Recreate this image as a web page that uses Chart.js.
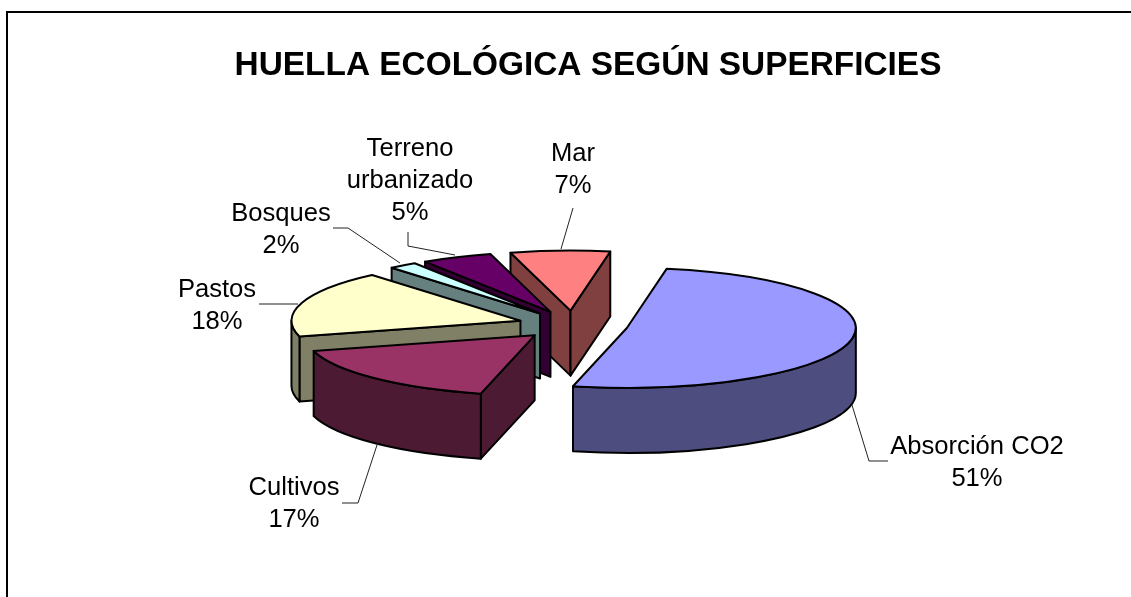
<!DOCTYPE html>
<html lang="es">
<head>
    <meta charset="UTF-8">
    <title>Huella ecológica según superficies</title>
    <script src="https://cdn.jsdelivr.net/npm/chart.js"></script>
    <style>
        body { margin: 0; background-color: white; }
        canvas { display: block; }
    </style>
</head>
<body>
    <canvas id="pieChart" width="1131" height="597"></canvas>

    <script>
        let categories = ["Absorción CO2", "Cultivos", "Pastos", "Bosques", "Terreno urbanizado", "Mar"];
        let percents = [51, 17, 18, 2, 5, 7];
        let topColors = ["#9999FF", "#993366", "#FFFFCC", "#CCFFFF", "#660066", "#FF8080"];
        let wallColors = ["#4D4D80", "#4D1A33", "#808066", "#668080", "#330033", "#804040"];

        // pie look, measured on the picture
        const centerX = 573, centerY = 325;
        const tilt = 0.262;
        const depth = 65;
        const explode = 55;
        const edgeWidth = 2;
        const labelFont = "25.6px 'Liberation Sans', Arial, sans-serif";

        // where each label goes, same order as categories
        const labelSpots = [
            { lines: ["Absorción CO2"], x: 977, y: 454, leader: [[852, 405], [869, 461], [888, 461]] },
            { lines: ["Cultivos"], x: 294, y: 495, leader: [[378, 442], [358, 503], [342, 503]] },
            { lines: ["Pastos"], x: 217, y: 297, leader: [[259, 304], [298, 304]] },
            { lines: ["Bosques"], x: 281, y: 221, leader: [[333, 228], [348, 228], [400, 263]] },
            { lines: ["Terreno", "urbanizado"], x: 410, y: 156, leader: [[408, 232], [408, 246], [455, 255]] },
            { lines: ["Mar"], x: 573, y: 161, leader: [[573, 208], [561, 249]] }
        ];

        function wallFace(ctx, x1, y1, x2, y2, color) {
            ctx.beginPath();
            ctx.moveTo(x1, y1);
            ctx.lineTo(x2, y2);
            ctx.lineTo(x2, y2 + depth);
            ctx.lineTo(x1, y1 + depth);
            ctx.closePath();
            ctx.fillStyle = color;
            ctx.fill();
            ctx.stroke();
        }

        function drawSlice(ctx, arc, index) {
            let s = arc.startAngle, e = arc.endAngle, r = arc.outerRadius;
            let mid = (s + e) / 2;
            let ax = centerX + Math.cos(mid) * explode;
            let ay = centerY + Math.sin(mid) * explode * tilt;
            let px = t => ax + Math.cos(t) * r;
            let py = t => ay + Math.sin(t) * r * tilt;

            ctx.lineWidth = edgeWidth;
            ctx.strokeStyle = "black";
            ctx.lineJoin = "round";

            // flat side walls, only those turned to the viewer
            if (Math.cos(s) < 0) wallFace(ctx, ax, ay, px(s), py(s), wallColors[index]);
            if (Math.cos(e) > 0) wallFace(ctx, ax, ay, px(e), py(e), wallColors[index]);

            // curved wall, front half of the ellipse only
            for (let m = -2; m <= 2; m += 2) {
                let from = Math.max(s, m * Math.PI);
                let to = Math.min(e, (m + 1) * Math.PI);
                if (to <= from) continue;
                ctx.beginPath();
                ctx.ellipse(ax, ay, r, r * tilt, 0, from, to);
                ctx.ellipse(ax, ay + depth, r, r * tilt, 0, to, from, true);
                ctx.closePath();
                ctx.fillStyle = wallColors[index];
                ctx.fill();
                ctx.stroke();
            }

            // top face is the library's own arc, squashed
            ctx.save();
            ctx.translate(ax, ay);
            ctx.scale(1, tilt);
            ctx.translate(-arc.x, -arc.y);
            arc.draw(ctx);
            ctx.restore();

            ctx.beginPath();
            ctx.moveTo(ax, ay);
            ctx.ellipse(ax, ay, r, r * tilt, 0, s, e);
            ctx.closePath();
            ctx.stroke();
        }

        function drawLabels(ctx) {
            ctx.lineWidth = 1;
            ctx.strokeStyle = "#222222";
            ctx.fillStyle = "black";
            ctx.font = labelFont;
            ctx.textAlign = "center";
            ctx.textBaseline = "alphabetic";
            labelSpots.forEach((spot, i) => {
                ctx.beginPath();
                spot.leader.forEach((p, j) => {
                    if (j === 0) ctx.moveTo(p[0], p[1]);
                    else ctx.lineTo(p[0], p[1]);
                });
                ctx.stroke();
                let lines = spot.lines.concat([percents[i] + "%"]);
                lines.forEach((line, j) => ctx.fillText(line, spot.x, spot.y + j * 32));
            });
        }

        const pie3d = {
            id: "pie3d",
            beforeDatasetsDraw(chart) {
                let ctx = chart.ctx;
                let arcs = chart.getDatasetMeta(0).data;
                ctx.save();
                // back slices first
                for (let i = arcs.length - 1; i >= 0; i--) drawSlice(ctx, arcs[i], i);
                drawLabels(ctx);
                ctx.restore();
                return false;
            },
            afterDraw(chart) {
                // the frame of the original is cut off on the right and bottom
                let ctx = chart.ctx;
                ctx.save();
                ctx.strokeStyle = "black";
                ctx.lineWidth = 2;
                ctx.beginPath();
                ctx.moveTo(7, 597);
                ctx.lineTo(7, 12);
                ctx.lineTo(1131, 12);
                ctx.stroke();
                ctx.restore();
            }
        };

        new Chart(document.getElementById("pieChart").getContext("2d"), {
            type: "pie",
            data: {
                labels: categories,
                datasets: [{
                    data: percents,
                    backgroundColor: topColors,
                    borderWidth: 0
                }]
            },
            options: {
                responsive: false,
                animation: false,
                rotation: 10,
                radius: 229,
                layout: { padding: { left: 45 } },
                plugins: {
                    legend: { display: false },
                    tooltip: { enabled: false },
                    title: {
                        display: true,
                        text: "HUELLA ECOLÓGICA SEGÚN SUPERFICIES",
                        fullSize: false,
                        color: "black",
                        font: { family: "'Liberation Sans', Arial, sans-serif", size: 33.4, weight: "bold" },
                        padding: { top: 46, bottom: 10 }
                    }
                }
            },
            plugins: [pie3d]
        });
    </script>
</body>
</html>
